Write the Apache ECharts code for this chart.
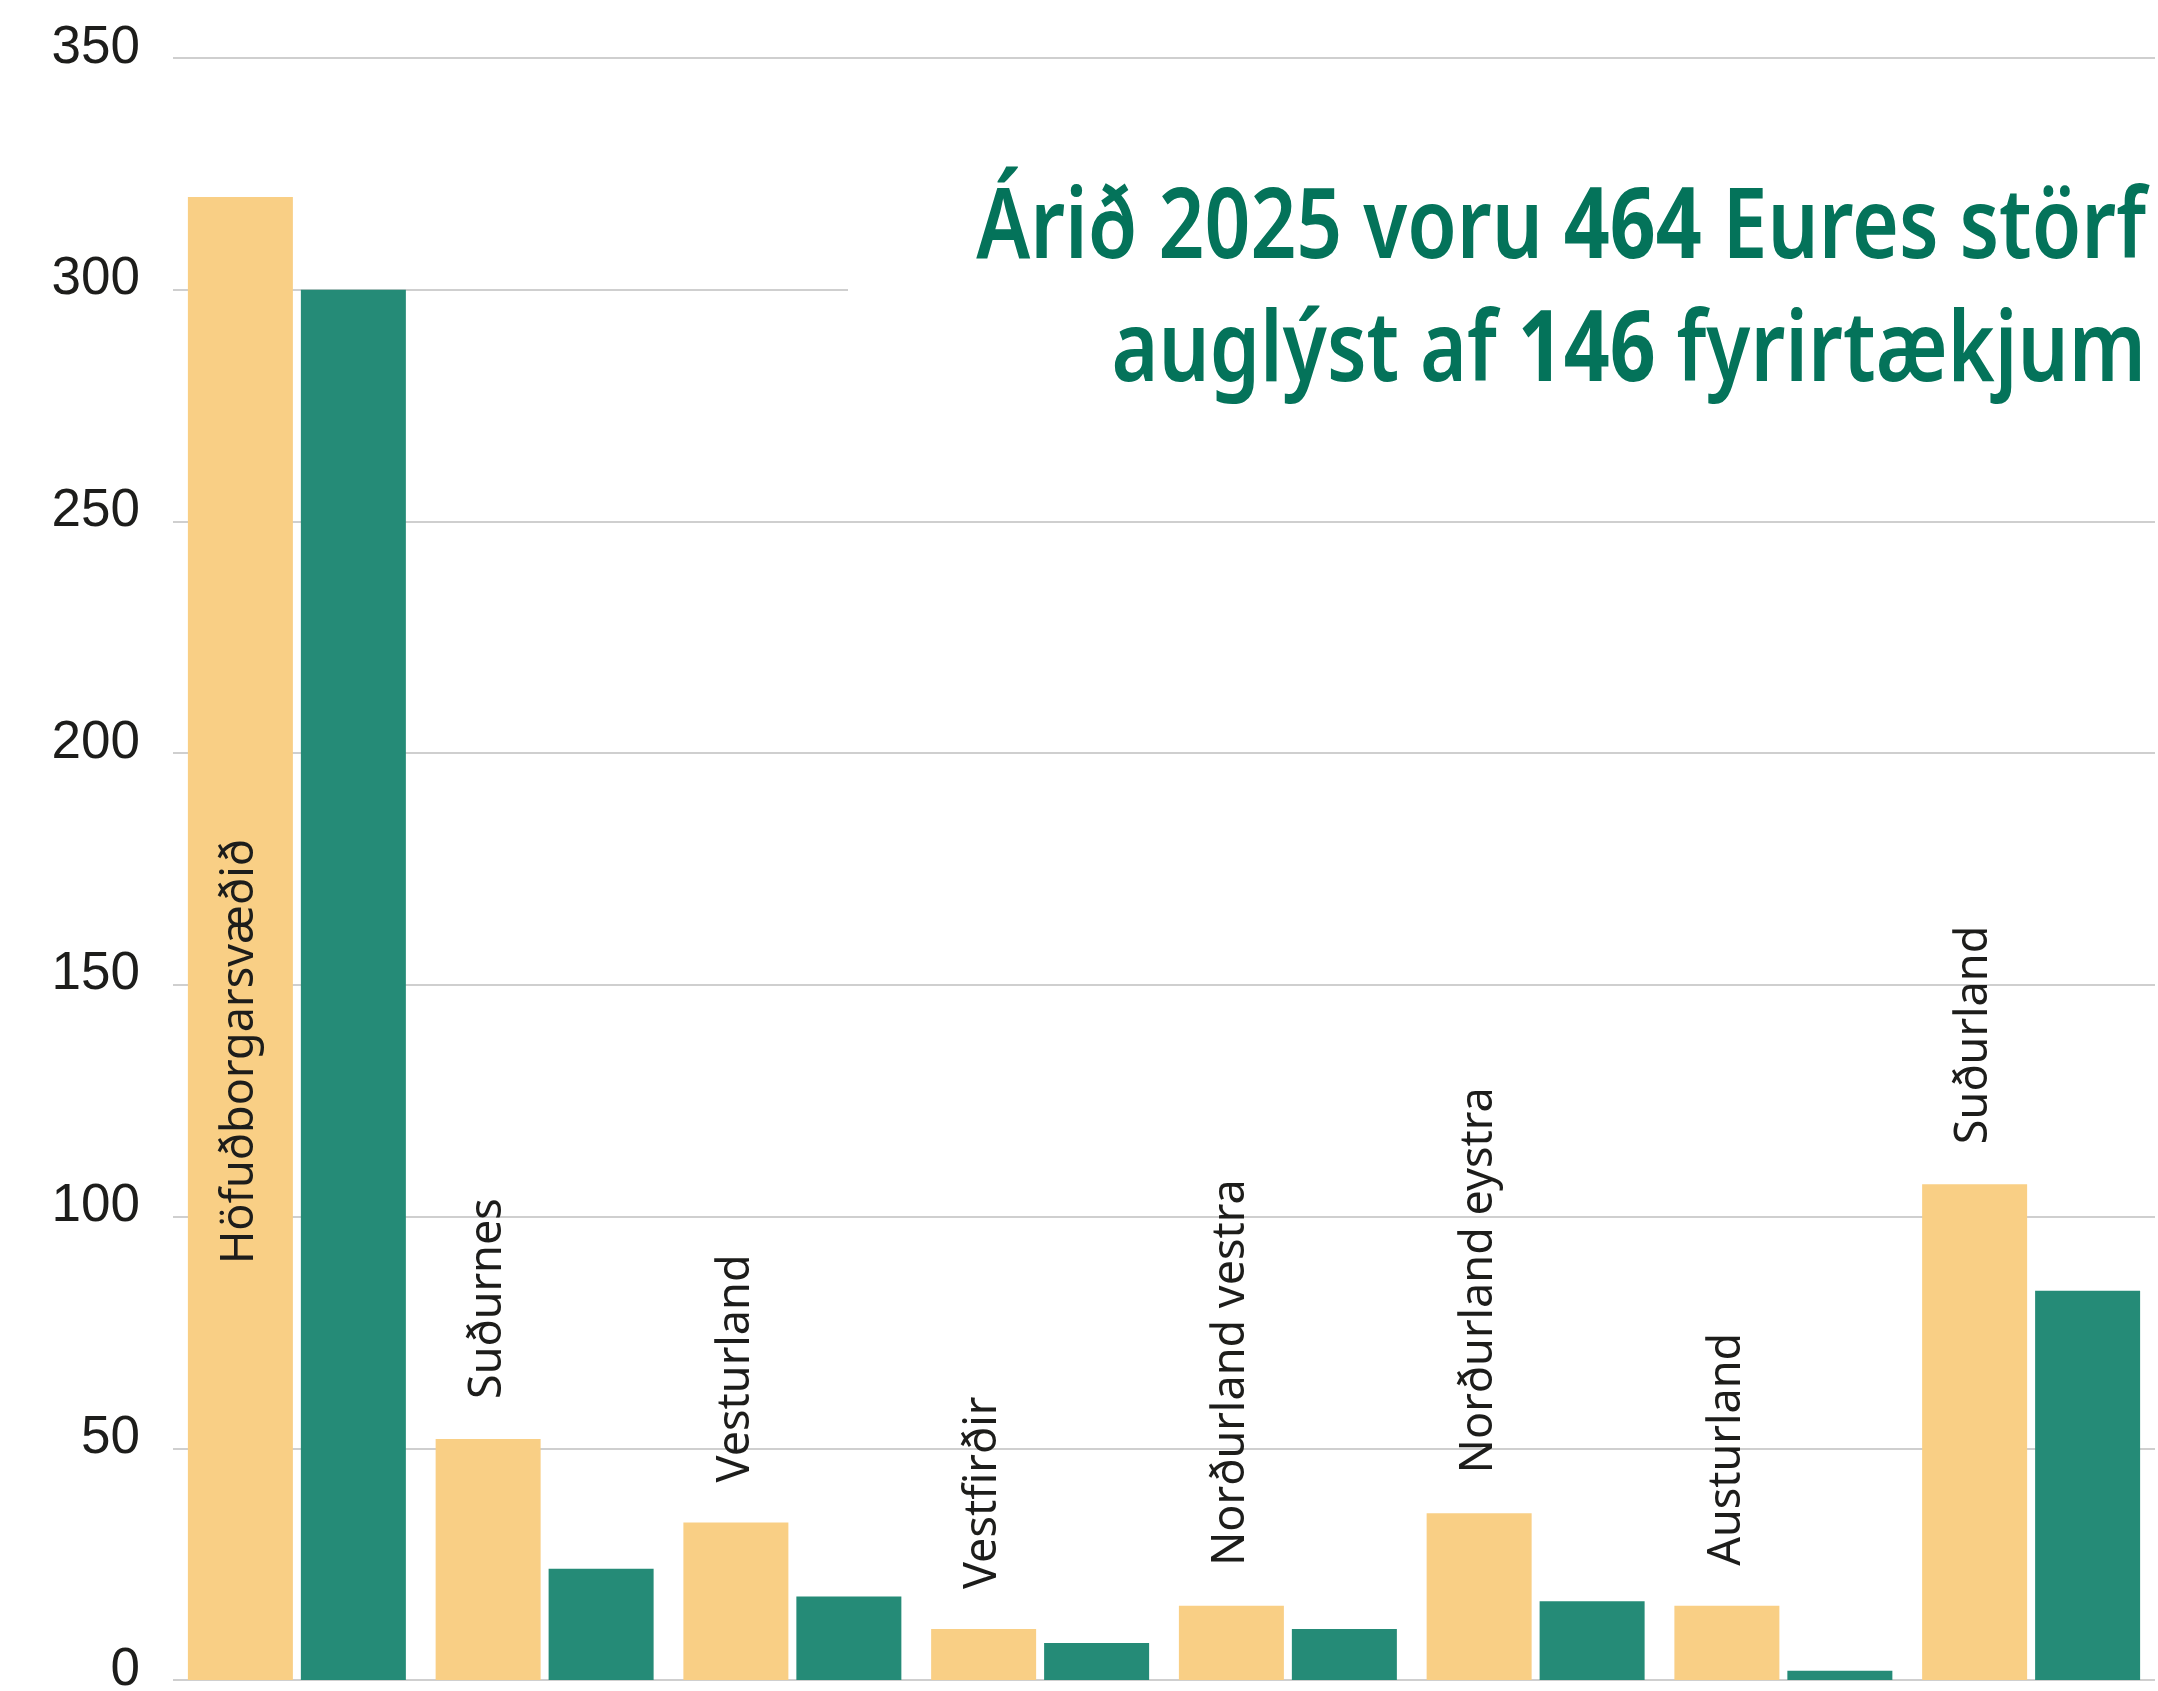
<!DOCTYPE html>
<html>
<head>
<meta charset="utf-8">
<script src="https://cdn.jsdelivr.net/npm/echarts@6/dist/echarts.min.js"></script>
<style>
  html, body { margin: 0; padding: 0; background: #ffffff; overflow: hidden; }
  #chart { width: 2158px; height: 1691px; }
</style>
</head>
<body>
<div id="chart"></div>
<script>
// ---- data ----
var categories = ['Höfuðborgarsvæðið', 'Suðurnes', 'Vesturland', 'Vestfirðir',
                  'Norðurland vestra', 'Norðurland eystra', 'Austurland', 'Suðurland'];
var seriesNames = ['2024', '2025'];
var yellowValues = [320, 52, 34, 11, 16, 36, 16, 107];
var greenValues  = [300, 24, 18, 8, 11, 17, 2, 84];
var yMin = 0, yMax = 350, yStep = 50;
var titleLine1 = ['Árið 2025 voru ', '464', ' Eures störf'];
var titleLine2 = ['auglýst af ', '146', ' fyrirtækjum'];

var YELLOW = '#f9cf85';
var GREEN = '#258b77';
var TITLE_GREEN = '#04735a';
var TEXT = '#1d1d1b';
var GRID = '#cfcfcf';
var SANS = "'Noto Sans', sans-serif";

var chart = echarts.init(document.getElementById('chart'), null, { width: 2158, height: 1691 });

var yellowData = yellowValues.map(function (v, i) {
  var item = { value: v };
  if (i === 0) {
    item.label = { position: 'insideBottom', distance: 416 };
  }
  return item;
});

var titleRich = {
  a: { fontFamily: SANS, fontWeight: '600 condensed', fontSize: 98, lineHeight: 123, fill: TITLE_GREEN, align: 'right' },
  b: { fontFamily: SANS, fontWeight: 'bold condensed', fontSize: 98, lineHeight: 123, fill: TITLE_GREEN, align: 'right' }
};

chart.setOption({
  animation: false,
  backgroundColor: '#ffffff',
  graphic: [
    {
      type: 'rect',
      left: 848,
      top: 110,
      z: 5,
      shape: { width: 1310, height: 350 },
      style: { fill: '#ffffff' },
      silent: true
    },
    {
      type: 'text',
      x: 2146,
      y: 169,
      scaleX: 0.82,
      z: 10,
      silent: true,
      style: {
        text: '{a|' + titleLine1[0] + '}{b|' + titleLine1[1] + '}{a|' + titleLine1[2] + '}\n' +
              '{a|' + titleLine2[0] + '}{b|' + titleLine2[1] + '}{a|' + titleLine2[2] + '}',
        rich: titleRich,
        fill: TITLE_GREEN,
        font: "600 condensed 98px 'Noto Sans', sans-serif",
        align: 'right',
        verticalAlign: 'top'
      }
    }
  ],
  grid: { left: 173, right: 3, top: 58, bottom: 11, containLabel: false, outerBoundsMode: 'none' },
  xAxis: {
    type: 'category',
    data: categories,
    axisLine: { show: false },
    axisTick: { show: false },
    axisLabel: { show: false },
    splitLine: { show: false }
  },
  yAxis: {
    type: 'value',
    min: yMin,
    max: yMax,
    interval: yStep,
    axisLine: { show: false },
    axisTick: { show: false },
    splitLine: { show: true, lineStyle: { color: GRID, width: 2 } },
    axisLabel: {
      margin: 33,
      color: TEXT,
      fontFamily: "'Liberation Sans', sans-serif",
      fontSize: 53,
      verticalAlign: 'bottom',
      lineHeight: 20
    }
  },
  series: [
    {
      name: seriesNames[0],
      type: 'bar',
      data: yellowData,
      barWidth: 105,
      barGap: '7.6%',
      itemStyle: { color: YELLOW },
      label: {
        show: true,
        position: 'top',
        distance: 40,
        rotate: 90,
        align: 'left',
        verticalAlign: 'middle',
        color: TEXT,
        fontFamily: SANS,
        fontWeight: 'normal condensed',
        fontSize: 45,
        formatter: function (p) { return p.name; }
      }
    },
    {
      name: seriesNames[1],
      type: 'bar',
      data: greenValues,
      barWidth: 105,
      barGap: '7.6%',
      itemStyle: { color: GREEN }
    }
  ]
});
</script>
</body>
</html>
